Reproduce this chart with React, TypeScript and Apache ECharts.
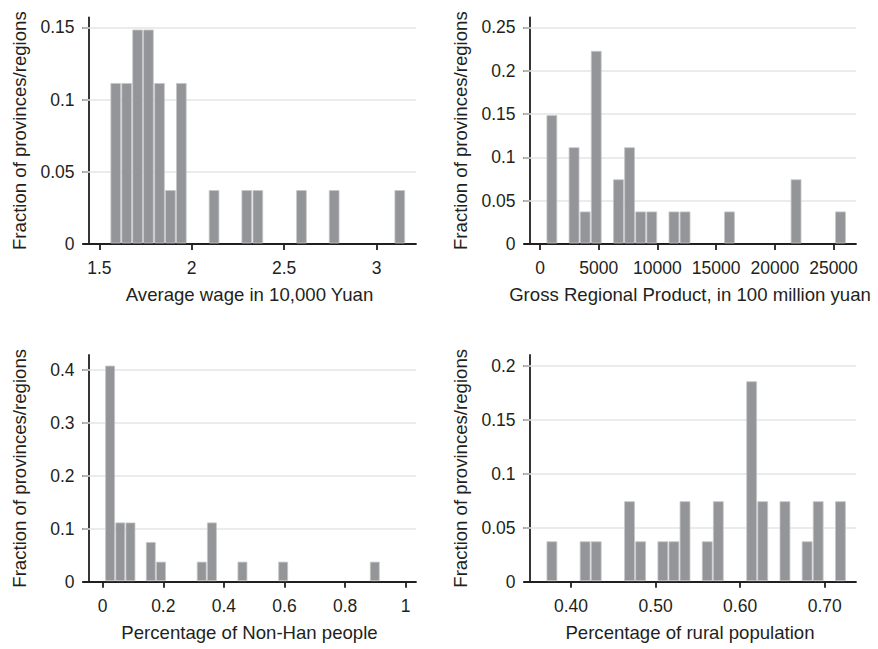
import React, { useEffect, useRef } from "react";
import * as echarts from "echarts";

// Panel 1: Average wage in 10,000 Yuan
const wageCenters = [1.589, 1.648, 1.707, 1.766, 1.826, 1.885, 1.944, 2.121, 2.298, 2.358, 2.594, 2.771, 3.126];
const wageFractions = [0.1111, 0.1111, 0.1481, 0.1481, 0.1111, 0.037, 0.1111, 0.037, 0.037, 0.037, 0.037, 0.037, 0.037];
const wageBinWidth = 0.0591;
const wageXTicks = [1.5, 2, 2.5, 3];
const wageYTicks = [0, 0.05, 0.1, 0.15];

// Panel 2: Gross Regional Product
const grpCenters = [1010, 2901, 3846, 4792, 6683, 7629, 8574, 9520, 11411, 12356, 16138, 21811, 25593];
const grpFractions = [0.1481, 0.1111, 0.037, 0.2222, 0.0741, 0.1111, 0.037, 0.037, 0.037, 0.037, 0.037, 0.0741, 0.037];
const grpBinWidth = 945.5;
const grpXTicks = [0, 5000, 10000, 15000, 20000, 25000];
const grpYTicks = [0, 0.05, 0.1, 0.15, 0.2, 0.25];

// Panel 3: Percentage of Non-Han people
const nonHanCenters = [0.0244, 0.058, 0.0916, 0.1588, 0.1924, 0.3268, 0.3604, 0.4612, 0.5956, 0.898];
const nonHanFractions = [0.4074, 0.1111, 0.1111, 0.0741, 0.037, 0.037, 0.1111, 0.037, 0.037, 0.037];
const nonHanBinWidth = 0.0336;
const nonHanXTicks = [0, 0.2, 0.4, 0.6, 0.8, 1];
const nonHanYTicks = [0, 0.1, 0.2, 0.3, 0.4];

// Panel 4: Percentage of rural population
const ruralCenters = [0.3774, 0.4167, 0.4298, 0.4692, 0.4823, 0.5086, 0.5217, 0.5348, 0.5611, 0.5742, 0.6136, 0.6267, 0.653, 0.6792, 0.6923, 0.7186];
const ruralFractions = [0.037, 0.037, 0.037, 0.0741, 0.037, 0.037, 0.037, 0.0741, 0.037, 0.0741, 0.1852, 0.0741, 0.0741, 0.037, 0.0741, 0.0741];
const ruralBinWidth = 0.01312;
const ruralXTicks = [0.4, 0.5, 0.6, 0.7];
const ruralYTicks = [0, 0.05, 0.1, 0.15, 0.2];

const yTitle = "Fraction of provinces/regions";
const xTitles = [
  "Average wage in 10,000 Yuan",
  "Gross Regional Product, in 100 million yuan",
  "Percentage of Non-Han people",
  "Percentage of rural population",
];

const INK = "#231f20";
const FONT = "'Liberation Sans', Arial, Helvetica, sans-serif";

export default function App() {
  const ref = useRef<HTMLDivElement>(null);
  useEffect(() => {
    if (!ref.current) return;
    const chart = echarts.init(ref.current, undefined, { renderer: "svg" });

    const panels = [
      { centers: wageCenters, fr: wageFractions, bw: wageBinWidth, xt: wageXTicks, yt: wageYTicks,
        xmin: 1.4118, xmax: 3.2138, ymax: 0.1569, fmt: (v: number) => String(v) },
      { centers: grpCenters, fr: grpFractions, bw: grpBinWidth, xt: grpXTicks, yt: grpYTicks,
        xmin: -1363, xmax: 26917, ymax: 0.2615, fmt: (v: number) => String(v) },
      { centers: nonHanCenters, fr: nonHanFractions, bw: nonHanBinWidth, xt: nonHanXTicks, yt: nonHanYTicks,
        xmin: -0.065, xmax: 1.034, ymax: 0.4283, fmt: (v: number) => String(v) },
      { centers: ruralCenters, fr: ruralFractions, bw: ruralBinWidth, xt: ruralXTicks, yt: ruralYTicks,
        xmin: 0.3444, xmax: 0.737, ymax: 0.2099, fmt: (v: number) => v.toFixed(2) },
    ];

    const grids = [
      { left: 83, top: 17.3, width: 333, height: 226.7 },
      { left: 524, top: 17.3, width: 332, height: 226.7 },
      { left: 83, top: 355, width: 333, height: 226.7 },
      { left: 524, top: 355, width: 332, height: 226.7 },
    ];

    const axisLine = { show: true, onZero: false, lineStyle: { color: INK, width: 1.8 } };
    const axisTickBase = { show: true, length: 6, inside: false, lineStyle: { color: INK, width: 1.8 } };

    const option: any = {
      animation: false,
      grid: grids,
      xAxis: panels.map((p, i) => ({
        type: "value",
        gridIndex: i,
        min: p.xmin,
        max: p.xmax,
        axisLine,
        axisTick: { ...axisTickBase, customValues: p.xt },
        axisLabel: {
          customValues: p.xt,
          formatter: p.fmt,
          margin: 15,
          color: INK,
          fontSize: 17.5,
          fontFamily: FONT,
        },
        splitLine: { show: false },
        name: xTitles[i],
        nameLocation: "middle",
        nameGap: 41,
        nameTextStyle: { color: INK, fontSize: 18.6, fontFamily: FONT },
      })),
      yAxis: panels.map((p, i) => ({
        type: "value",
        gridIndex: i,
        min: 0,
        max: p.ymax,
        offset: -5.5,
        axisLine,
        axisTick: { ...axisTickBase, customValues: p.yt },
        axisLabel: {
          customValues: p.yt,
          formatter: (v: number) => String(v),
          margin: 14,
          color: INK,
          fontSize: 17.5,
          fontFamily: FONT,
        },
        splitLine: { show: false },
        name: yTitle,
        nameLocation: "middle",
        nameRotate: 90,
        nameGap: 60,
        nameTextStyle: { color: INK, fontSize: 18.6, fontFamily: FONT },
      })),
      series: panels.map((p, i) => ({
        type: "custom",
        xAxisIndex: i,
        yAxisIndex: i,
        silent: true,
        z: 3,
        data: p.centers.map((c, k) => [c, p.fr[k]]),
        renderItem: (params: any, api: any) => {
          const c = api.value(0);
          const h = api.value(1);
          const a = api.coord([c - p.bw / 2, h]);
          const b = api.coord([c + p.bw / 2, 0]);
          return {
            type: "rect",
            shape: { x: a[0] + 0.6, y: a[1], width: b[0] - a[0] - 1.2, height: b[1] - a[1] - 1 },
            style: { fill: "#939598", stroke: "#c4c5c7", lineWidth: 0.8 },
          };
        },
        markLine: {
          silent: true,
          z: 1,
          symbol: ["none", "none"],
          label: { show: false },
          lineStyle: { color: "#e4e4e4", width: 1.6, type: "solid" },
          data: p.yt.filter((v) => v > 0).map((v) => ({ yAxis: v })),
        },
      })),
    };

    chart.setOption(option);
    return () => chart.dispose();
  }, []);

  return (
    <div
      ref={ref}
      style={{ position: "absolute", left: 0, top: 0, width: 878, height: 649, background: "#fff" }}
    />
  );
}
